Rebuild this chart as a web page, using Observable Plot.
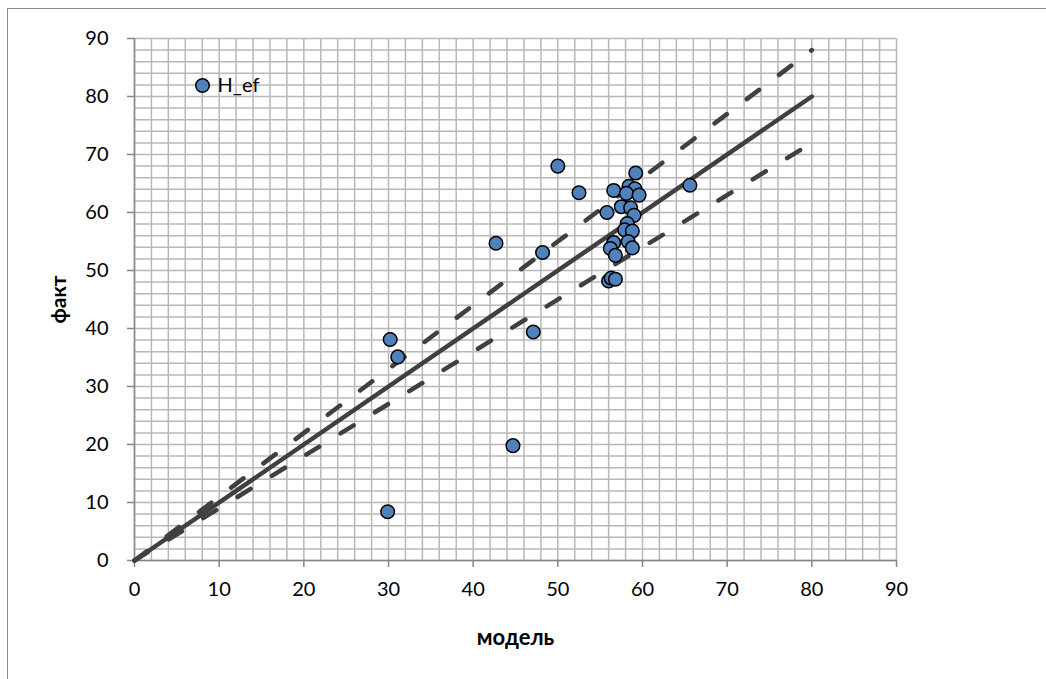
<!DOCTYPE html>
<html>
<head>
<meta charset="utf-8">
<script src="https://cdn.jsdelivr.net/npm/d3@7"></script>
<script src="https://cdn.jsdelivr.net/npm/@observablehq/plot@0.6"></script>
<style>
  html, body { margin: 0; padding: 0; background: #ffffff; overflow: hidden; }
  #wrap { position: relative; width: 1046px; height: 679px; }
  #border { position: absolute; left: 7px; top: 8px; width: 1200px; height: 800px;
            border-left: 1.5px solid #8a8a8a; border-top: 1.5px solid #8a8a8a; }
  #chart { position: absolute; left: 0; top: 0; }
</style>
</head>
<body>
<div id="wrap"><div id="border"></div><div id="chart"></div></div>
<script>
// ---- data ----
const model = [50.0, 59.2, 65.6, 52.5, 56.6, 58.4, 59.1, 58.1, 59.6, 57.5, 58.6, 59.0, 55.8, 58.2, 57.9, 58.8, 58.3, 56.6, 56.2, 56.8, 58.8, 56.0, 56.3, 56.8, 48.2, 42.7, 30.2, 31.1, 47.1, 44.7, 29.9];
const fact  = [68.0, 66.8, 64.7, 63.4, 63.8, 64.5, 64.1, 63.3, 63.0, 61.0, 60.8, 59.5, 60.0, 58.1, 57.0, 56.8, 55.0, 54.8, 53.8, 52.6, 53.9, 48.2, 48.7, 48.5, 53.1, 54.7, 38.1, 35.1, 39.4, 19.8, 8.4];
const seriesName = "H_ef";
const lineX = [0, 80];
const lineMid = [0, 80];
const lineUpper = [0, 88];
const lineLower = [0, 72];
const tickValues = [0, 10, 20, 30, 40, 50, 60, 70, 80, 90];
const gridValues = [0,2,4,6,8,10,12,14,16,18,20,22,24,26,28,30,32,34,36,38,40,42,44,46,48,50,52,54,56,58,60,62,64,66,68,70,72,74,76,78,80,82,84,86,88,90];
const xLabel = "модель";
const yLabel = "факт";

const points = model.map((m, i) => ({model: m, fact: fact[i]}));
const mk = (ys) => lineX.map((x, i) => ({x, y: ys[i]}));

const lineColor = "#404040";
const chart = Plot.plot({
  width: 1046,
  height: 679,
  marginLeft: 134,
  marginRight: 150,
  marginTop: 38,
  marginBottom: 119,
  x: {domain: [0, 90]},
  y: {domain: [0, 90]},
  style: {fontFamily: "Lato, 'Open Sans', sans-serif", fontSize: "20px", color: "#000", background: "transparent"},
  marks: [
    Plot.gridX(gridValues, {stroke: "#b8b8b8", strokeOpacity: 1, strokeWidth: 1.5}),
    Plot.gridY(gridValues, {stroke: "#b8b8b8", strokeOpacity: 1, strokeWidth: 1.5}),
    Plot.ruleX([0], {stroke: "#868686", strokeWidth: 1.5}),
    Plot.ruleY([0], {stroke: "#868686", strokeWidth: 1.5}),
    Plot.axisX(tickValues, {tickSize: 7, tickPadding: 14, stroke: "#868686", strokeWidth: 1.5, fill: "#000", label: null, fontSize: 20}),
    Plot.axisY(tickValues, {tickSize: 7, tickPadding: 19, stroke: "#868686", strokeWidth: 1.5, fill: "#000", label: null, fontSize: 20}),
    Plot.line(mk(lineMid), {x: "x", y: "y", stroke: lineColor, strokeWidth: 4.5, strokeLinecap: "round"}),
    Plot.line(mk(lineUpper), {x: "x", y: "y", stroke: lineColor, strokeWidth: 4.5, strokeLinecap: "round", strokeDasharray: "15.35,25"}),
    Plot.line(mk(lineLower), {x: "x", y: "y", stroke: lineColor, strokeWidth: 4.5, strokeLinecap: "round", strokeDasharray: "15.35,25"}),
    Plot.dot(points, {x: "model", y: "fact", r: 6.8, fill: "#4F81BD", stroke: "#000", strokeWidth: 1.5}),
    // legend
    Plot.dot([seriesName], {frameAnchor: "top-left", dx: 68, dy: 47, r: 6.8, fill: "#4F81BD", stroke: "#000", strokeWidth: 1.5}),
    Plot.text([seriesName], {frameAnchor: "top-left", dx: 83, dy: 47, text: d => d, textAnchor: "start", lineAnchor: "middle", fontSize: 20, fill: "#000"}),
    // axis titles
    Plot.text([xLabel], {frameAnchor: "bottom", dy: 77, text: d => d, textAnchor: "middle", lineAnchor: "middle", fontWeight: "bold", fontSize: 22, fill: "#000"}),
    Plot.text([yLabel], {frameAnchor: "left", dx: -75, text: d => d, rotate: -90, textAnchor: "middle", lineAnchor: "middle", fontWeight: "bold", fontSize: 21, fill: "#000"})
  ]
});
document.getElementById("chart").appendChild(chart);
</script>
</body>
</html>
